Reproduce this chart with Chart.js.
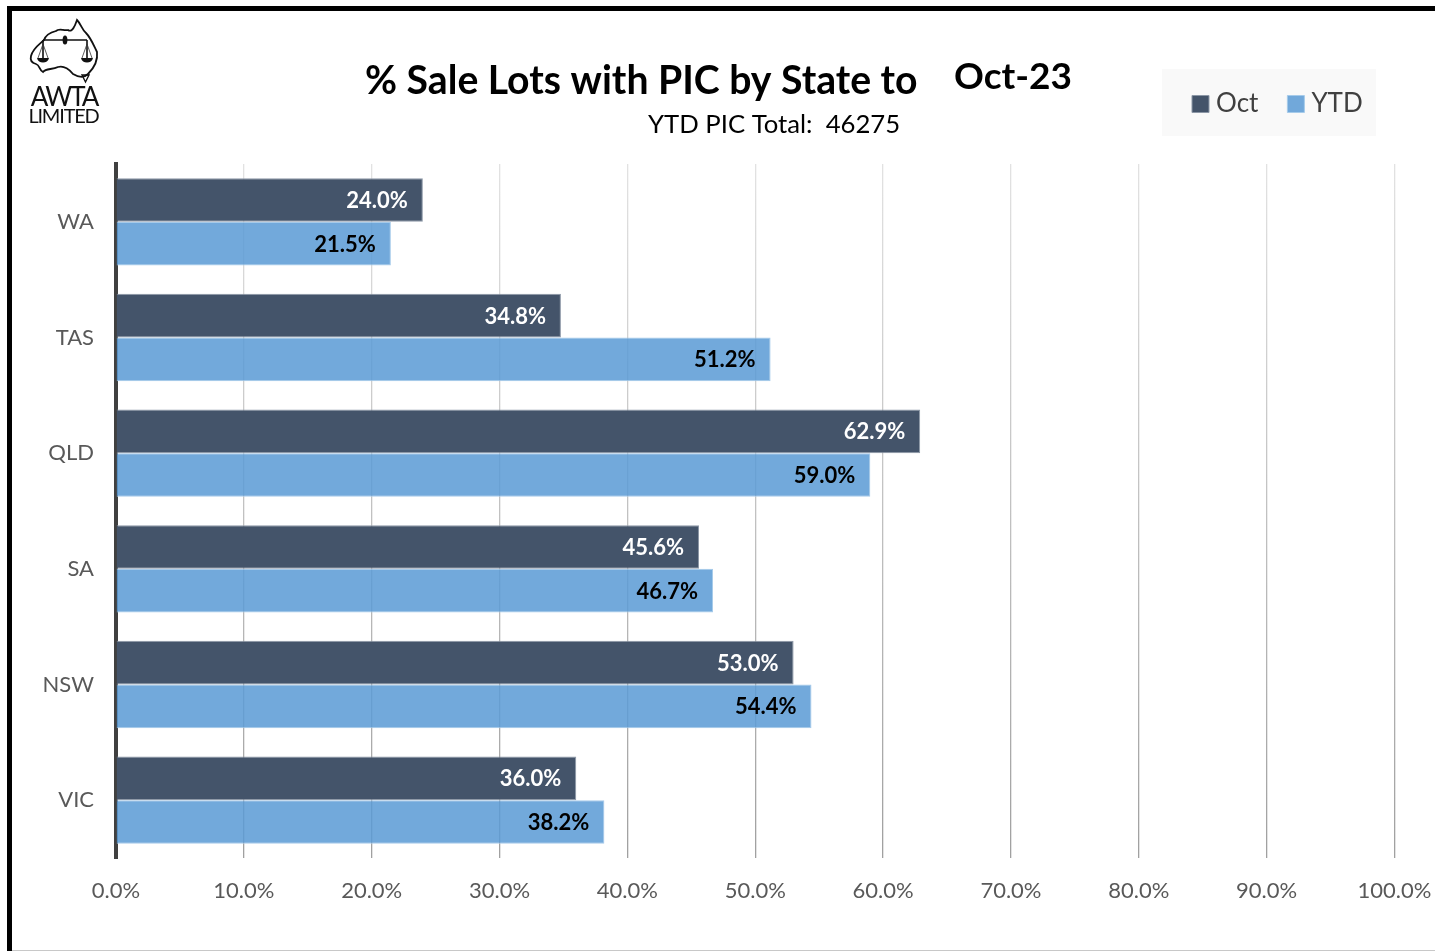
<!DOCTYPE html>
<html>
<head>
<meta charset="utf-8">
<script src="https://cdn.jsdelivr.net/npm/chart.js@4/dist/chart.umd.min.js"></script>
<style>
html,body{margin:0;padding:0;background:#fff;width:1435px;height:951px;overflow:hidden}
#wrap{position:absolute;left:0;top:0;width:1435px;height:951px}
canvas{display:block}
#logo{position:absolute;left:26px;top:14px;width:78px;height:116px}
</style>
</head>
<body>
<div id="wrap"><canvas id="c" width="1435" height="951"></canvas></div>
<svg id="logo" viewBox="0 0 78 116" xmlns="http://www.w3.org/2000/svg">
  <path d="M5 42 C7 34 14 30 18 26 C20 20 26 18 30 17 C33 14 38 17 42 16 C46 19 49 12 51 6 C55 10 56 16 60 19 C65 24 68 32 71 38 C72 46 68 54 62 60 C58 64 52 63 47 60 C44 56 38 51 32 53 C26 56 20 54 17 58 C13 56 14 51 10 50 C6 49 4 46 5 42 Z" fill="none" stroke="#111" stroke-width="1.8"/>
  <path d="M17 26 H61 M17 26 V44 M61 26 V44" fill="none" stroke="#111" stroke-width="1.6"/>
  <ellipse cx="39" cy="26" rx="2.4" ry="4.5" fill="#111"/>
  <path d="M17 30 L12 44 M17 30 L22 44 M61 30 L56 44 M61 30 L66 44" stroke="#333" stroke-width="0.8" fill="none"/>
  <path d="M11 44 H23 C22 50 12 50 11 44 Z M55 44 H67 C66 50 56 50 55 44 Z" fill="#111"/>
  <path d="M56 61 H63 L59.5 68 Z" fill="none" stroke="#111" stroke-width="1.4"/>
  <text x="38" y="92" text-anchor="middle" font-family="Lato" font-size="26" letter-spacing="-2" fill="#111">AWTA</text>
  <text x="37.5" y="109" text-anchor="middle" font-family="Lato" font-size="20" letter-spacing="-1.2" fill="#111">LIMITED</text>
</svg>
<script>
const categories = ["WA", "TAS", "QLD", "SA", "NSW", "VIC"];
const octValues = [24.0, 34.8, 62.9, 45.6, 53.0, 36.0];
const ytdValues = [21.5, 51.2, 59.0, 46.7, 54.4, 38.2];
const seriesNames = ["Oct", "YTD"];
const titleText = "% Sale Lots with PIC by State to";
const periodText = "Oct-23";
const subtitleText = "YTD PIC Total:  46275";

const FONT = "Lato, Carlito, sans-serif";

const framePlugin = {
  id: "frame",
  beforeDraw(chart) {
    const c = chart.ctx;
    c.save();
    c.fillStyle = "#ffffff";
    c.fillRect(0, 0, 1435, 951);
    c.fillStyle = "#000000";
    c.fillRect(7, 6, 1428, 5);
    c.fillRect(7, 6, 5, 945);
    c.fillStyle = "#c8c8c8";
    c.fillRect(12, 950, 1423, 1);
    c.fillStyle = "#f9f9f9";
    c.fillRect(1162, 69, 214, 67);
    c.fillStyle = "#000000";
    c.textBaseline = "alphabetic";
    c.textAlign = "left";
    c.font = "bold 39.15px " + FONT;
    c.fillText(titleText, 365, 94);
    c.font = "bold 37px " + FONT;
    c.fillText(periodText, 954, 89);
    c.font = "25.7px " + FONT;
    c.fillText(subtitleText, 648, 133);
    c.restore();
  },
  afterLayout(chart) {
    const l = chart.legend;
    l.left = 1163; l.right = 1435; l.top = 56; l.bottom = 124;
    l.width = 272;
  }
};

const labelPlugin = {
  id: "barLabels",
  afterDatasetsDraw(chart) {
    const c = chart.ctx;
    c.save();
    c.textAlign = "right";
    c.textBaseline = "middle";
    c.font = "bold 22px " + FONT;
    chart.data.datasets.forEach((ds, i) => {
      c.fillStyle = i === 0 ? "#ffffff" : "#000000";
      chart.getDatasetMeta(i).data.forEach((bar, j) => {
        c.fillText(ds.data[j].toFixed(1) + "%", bar.x - 15, bar.y + 1);
      });
    });
    c.restore();
  }
};

function gridGradient(ctx) {
  const chart = ctx.chart;
  const a = chart.chartArea;
  if (!a) return "#bbbbbb";
  const g = chart.ctx.createLinearGradient(0, a.top, 0, a.bottom);
  g.addColorStop(0, "#e2e2e2");
  g.addColorStop(1, "#a0a0a0");
  return g;
}

new Chart(document.getElementById("c"), {
  type: "bar",
  data: {
    labels: categories,
    datasets: [
      { label: seriesNames[0], data: octValues, backgroundColor: "#44546A", borderColor: "#8C97A6", borderWidth: 1 },
      { label: seriesNames[1], data: ytdValues, backgroundColor: "rgba(91,155,213,0.86)", borderColor: "#A6CBEA", borderWidth: 1 }
    ]
  },
  plugins: [framePlugin, labelPlugin],
  options: {
    indexAxis: "y",
    responsive: false,
    animation: false,
    barPercentage: 1,
    categoryPercentage: 0.755,
    layout: { padding: { left: 0, right: 40.5, top: 93, bottom: 0 } },
    plugins: {
      title: { display: false },
      tooltip: { enabled: false },
      legend: {
        display: true,
        position: "top",
        align: "start",
        labels: { usePointStyle: true, pointStyle: "rect", boxWidth: 5, boxHeight: 17, padding: 35, color: "#404040", font: { family: FONT, size: 26 } }
      }
    },
    scales: {
      x: {
        min: 0, max: 100,
        afterFit(s) { s.height = 93; s.paddingLeft = 0; s.paddingRight = 0; },
        ticks: { stepSize: 10, color: "#595959", padding: 20, maxRotation: 0, font: { family: FONT, size: 22 }, callback: v => v.toFixed(1) + "%" },
        grid: { color: gridGradient, lineWidth: 1.3, drawTicks: false },
        border: { display: false }
      },
      y: {
        afterFit(s) { s.width = 116; },
        ticks: { color: "#595959", padding: 22, font: { family: FONT, size: 22 } },
        grid: { display: false, drawTicks: false },
        border: { display: true, color: "#404040", width: 4 }
      }
    }
  }
});
</script>
</body>
</html>
